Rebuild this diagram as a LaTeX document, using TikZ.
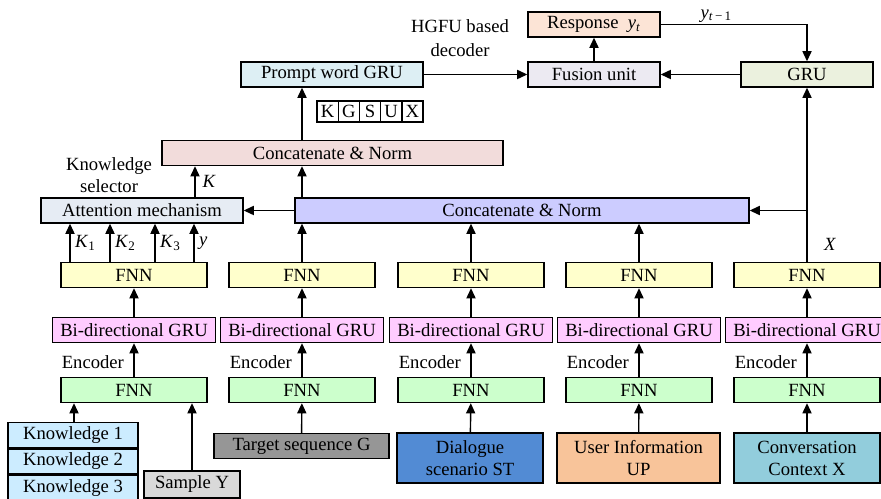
\documentclass[tikz,border=0pt]{standalone}
\usepackage{fontspec}
\setmainfont{Liberation Serif}
\usetikzlibrary{arrows.meta, positioning, calc}
\definecolor{fnnyel}{RGB}{255, 255, 204}
\definecolor{grupink}{RGB}{255, 204, 255}
\definecolor{fnngreen}{RGB}{204, 255, 204}
\definecolor{knowblue}{RGB}{204, 236, 255}
\definecolor{samplegray}{RGB}{217, 217, 217}
\definecolor{targetgray}{RGB}{150, 150, 150}
\definecolor{scenblue}{RGB}{82, 139, 212}
\definecolor{userorange}{RGB}{248, 196, 154}
\definecolor{convcyan}{RGB}{146, 205, 220}
\definecolor{attgray}{RGB}{230, 236, 244}
\definecolor{catviolet}{RGB}{204, 204, 255}
\definecolor{normrose}{RGB}{242, 220, 219}
\definecolor{promptcyan}{RGB}{221, 239, 244}
\definecolor{fusionlav}{RGB}{236, 234, 242}
\definecolor{grugreen}{RGB}{235, 241, 222}
\definecolor{resppeach}{RGB}{252, 228, 214}
\newcommand{\figfont}{\fontsize{10.6pt}{12.5pt}\selectfont}
\newcommand{\vsub}[2]{\textit{#1}\textsubscript{#2}}
\tikzset{
  layer/.style={rectangle, draw=black, line width=0.8pt, minimum width=#1,
                minimum height=0.5cm, inner sep=1pt, align=center, font=\figfont},
  layer/.default=2.92cm,
  cell/.style={rectangle, draw=black, line width=0.8pt, minimum width=0.424cm,
               minimum height=0.42cm, inner sep=0pt, font=\figfont},
  arrow/.style={-{Triangle[length=5.8pt,width=5.2pt]}, line width=0.8pt},
  link/.style={line width=0.8pt},
  lbl/.style={inner sep=1pt, font=\figfont, align=center},
}
\begin{document}
\begin{tikzpicture}[x=0.02cm, y=-0.02cm]
  \useasboundingbox (0,0) rectangle (881,499);

  % encoder columns
  \foreach \i/\x in {1/134, 2/302, 3/471, 4/639, 5/807} {
    \node[layer, fill=fnngreen] (enc\i) at (\x,390) {FNN};
    \node[layer=3.26cm, fill=grupink] (bgru\i) at (\x,330) {Bi-directional GRU};
    \node[layer, fill=fnnyel] (ffn\i) at (\x,275) {FNN};
    \node[lbl, anchor=east] (encl\i) at (\x-8,362) {Encoder};
    \draw[arrow] (enc\i) -- (bgru\i);
    \draw[arrow] (bgru\i) -- (ffn\i);
  }

  % inputs
  \node[layer=2.6cm, fill=knowblue] (know1) at (73,435) {Knowledge 1};
  \node[layer=2.6cm, fill=knowblue, below=0pt of know1.south, anchor=north] (know2) {Knowledge 2};
  \node[layer=2.6cm, fill=knowblue, below=0pt of know2.south, anchor=north] (know3) {Knowledge 3};
  \node[layer=1.92cm, minimum height=0.54cm, fill=samplegray] (sample) at (192,484.5) {Sample Y};
  \node[layer=3.5cm, fill=targetgray] (target) at (301.5,446) {Target sequence G};
  \node[layer, minimum height=1cm, fill=scenblue] (scen) at (470,458) {Dialogue\\scenario ST};
  \node[layer=3.26cm, minimum height=1cm, fill=userorange] (user) at (638.5,458) {User Information\\UP};
  \node[layer, minimum height=1cm, fill=convcyan] (conv) at (807,458) {Conversation\\Context X};

  \draw[arrow] (know1.north -| 74,0) -- (enc1.south -| 74,0);
  \draw[arrow] (sample.north) -- (sample.north |- enc1.south);
  \foreach \src/\dst in {target/enc2, scen/enc3, user/enc4, conv/enc5}
    \draw[arrow] (\src) -- (\dst);

  % fusion stage
  \node[layer=4.04cm, fill=attgray] (att) at (142,210.5) {Attention mechanism};
  \node[layer=9.08cm, fill=catviolet] (cat) at (522,210.5) {Concatenate \& Norm};
  \node[layer=6.82cm, fill=normrose] (norm) at (332.5,153) {Concatenate \& Norm};
  \node[lbl] (selector) at (109,175) {Knowledge\\selector};

  \foreach \xo/\lab in {70/\vsub{K}{1}, 110/\vsub{K}{2}, 155/\vsub{K}{3}, 194/\textit{y}}
    \draw[arrow] (ffn1.north -| \xo,0) -- node[lbl, right, xshift=1.5pt] {\lab} (att.south -| \xo,0);
  \foreach \i in {2,3,4}
    \draw[arrow] (ffn\i.north) -- (ffn\i.north |- cat.south);
  \draw[arrow] (cat.west) -- (att.east);
  \draw[arrow] (att.north -| 195,0) -- node[lbl, right, xshift=3pt] {\textit{K}} (norm.south -| 195,0);
  \draw[arrow] (ffn2.north |- cat.north) -- (ffn2.north |- norm.south);

  % decoder
  \node[layer=3.64cm, fill=promptcyan] (prompt) at (332,74.5) {Prompt word GRU};
  \node[layer=2.64cm, fill=fusionlav] (fusion) at (594,74.5) {Fusion unit};
  \node[layer=2.64cm, fill=resppeach] (resp) at (594,24.5) {Response\ \ \vsub{y}{\textit{t}}};
  \node[layer=2.64cm, fill=grugreen] (gru) at (807,74.5) {GRU};
  \node[lbl, font=\fontsize{10.6pt}{13.5pt}\selectfont] (hgfu) at (460,38) {HGFU based\\decoder};
  \foreach \l [count=\j] in {K,G,S,U,X}
    \node[cell] (kg\j) at ({306.4+21.2*\j},111.5) {\l};

  \draw[arrow] (ffn2.north |- norm.north) -- (prompt.south -| ffn2.north);
  \draw[arrow] (prompt.east) -- (fusion.west);
  \draw[arrow] (gru.west) -- (fusion.east);
  \draw[arrow] (fusion) -- (resp);
  \draw[arrow] (resp.east) -- node[lbl, above, pos=0.38] {\vsub{y}{\textit{t}\,\textminus\,1}} (resp.east -| gru.north) -- (gru.north);
  \draw[arrow] (ffn5.north) -- (gru.south);
  \draw[arrow] (ffn5.north |- cat.east) -- (cat.east);
  \node[lbl] (xlab) at (830,244) {\textit{X}};
\end{tikzpicture}
\end{document}
